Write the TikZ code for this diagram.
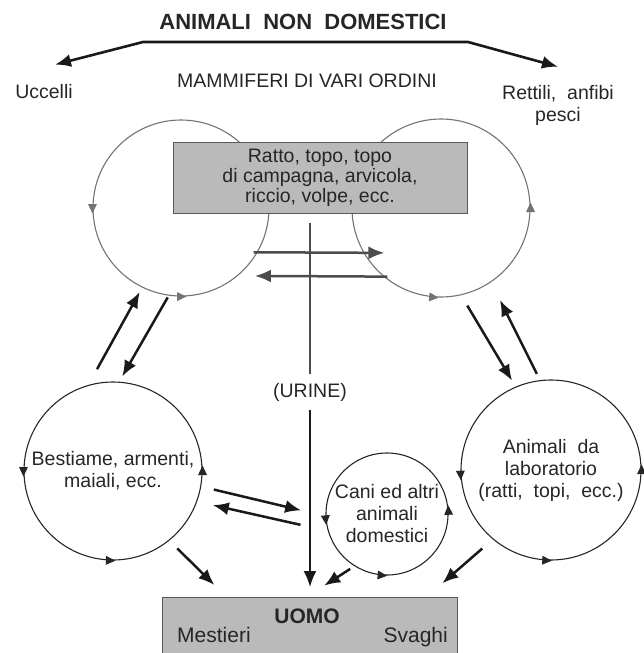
\documentclass[tikz,border=0pt]{standalone}
\usepackage{fontspec}
\setmainfont{Liberation Sans}
\usetikzlibrary{arrows.meta,calc}

\newcommand\ringmarks[3][black!85]{%
  \foreach \a in {#3} {\pic[rotate=\a+90,#1] at (#2.\a) {ringtip};}}

\begin{document}
\begin{tikzpicture}[x=1pt, y=-1pt,
  every node/.style={font=\fontsize{19.5}{22}\selectfont, text=black!85},
  >={Latex[length=16pt,width=13pt]},
  ring/.style={circle, draw=#1, line width=1.1pt, inner sep=0pt},
  ring/.default=black!85,
  panel/.style={rectangle, fill=black!27, draw=black!65, line width=1pt, inner sep=0pt},
  flow/.style={->, line width=2.5pt, draw=black!90},
  crossflow/.style={->, line width=2.5pt, draw=black!70},
  ringtip/.pic={\fill (5.5pt,0pt) -- (-4pt,4.5pt) -- (-4pt,-4.5pt) -- cycle;}]
	\useasboundingbox (0,0) rectangle (643,653);
	% header
	\node[font=\bfseries\fontsize{22}{24}\selectfont, inner sep=0pt] (title) at (303,22) {ANIMALI~~NON~~DOMESTICI};
	\node[inner sep=0pt] (mammiferi) at (307,81) {MAMMIFERI DI VARI ORDINI};
	\node[inner sep=0pt] (uccelli) at (44,92) {Uccelli};
	\node[inner sep=0pt, align=center] (rettili) at (558,105) {Rettili,~~anfibi\\pesci};
	\coordinate (bendL) at (143,42);
	\coordinate (bendR) at (468,42);
	\draw[flow, <->, line width=2.6pt] ([shift={(11,-20)}]uccelli.north) -- (bendL) -- (bendR) -- ([yshift=18pt]rettili.north);
	% wild mammals
	\node[ring=black!55, minimum size=176pt] (wildL) at (181,208) {};
	\node[ring=black!55, minimum size=178pt] (wildR) at (441,208) {};
	\ringmarks[black!55]{wildL}{180,270}
	\ringmarks[black!55]{wildR}{0,265}
	\node[panel, minimum width=294pt, minimum height=71pt, align=center, font=\fontsize{19.5}{20}\selectfont] (ratto) at (320,177.5) {Ratto, topo, topo\\di campagna, arvicola,\\riccio, volpe, ecc.};
	\draw[crossflow, shorten <=-4pt, shorten >=-21pt] (wildL.330) -- (wildR.210);
	\draw[crossflow, shorten <=-4pt, shorten >=17pt] (wildR.230) -- (wildL.310);
	% man
	\node[panel, draw=none, minimum width=294pt, minimum height=56pt, anchor=north] (uomo) at (310,597) {};
	\draw[black!65, line width=1pt] (uomo.south west) |- (uomo.north east) -- (uomo.south east);
	\node[font=\bfseries\fontsize{21}{22}\selectfont, inner sep=0pt, anchor=base] (man) at (307,623) {UOMO};
	\node[font=\fontsize{21}{22}\selectfont, inner sep=0pt, anchor=base west] (mestieri) at (177,642) {Mestieri};
	\node[font=\fontsize{21}{22}\selectfont, inner sep=0pt, anchor=base east] (svaghi) at (448,642) {Svaghi};
	% urine
	\node[inner sep=0pt, minimum height=36pt] (urine) at (310,392) {(URINE)};
	\draw[line width=1.8pt, draw=black!70, shorten <=9pt] (ratto.south -| urine) -- (urine);
	\draw[flow, line width=1.8pt, shorten >=10pt] (urine) -- (urine |- uomo.north);
	% domestic groups
	\node[ring, minimum size=178pt, align=center] (bestiame) at (113,471) {Bestiame, armenti,\\maiali, ecc.};
	\node[ring, minimum size=180pt, align=center] (lab) at (551,470) {Animali~~da\\laboratorio\\(ratti,~~topi,~~ecc.)};
	\node[ring, minimum size=122pt, align=center] (cani) at (387,514) {Cani ed altri\\animali\\domestici};
	\ringmarks{bestiame}{180,0,268}
	\ringmarks{lab}{183,0,267}
	\ringmarks{cani}{185,3,265}
	% exchanges
	\draw[flow, shorten <=18pt, shorten >=5pt] (bestiame.106) -- (wildL.244);
	\draw[flow, shorten <=2pt, shorten >=6pt] (wildL.262) -- (bestiame.86);
	\draw[flow, shorten <=12pt, shorten >=7pt] (wildR.283) -- (lab.113);
	\draw[flow, shorten <=7pt, shorten >=20pt] (lab.97) -- (wildR.304);
	\draw[flow, shorten <=13pt, shorten >=25pt] (bestiame.350) -- (cani.182);
	\draw[flow, shorten <=28pt, shorten >=16pt] (cani.196) -- (bestiame.340);
	% toward man
	\draw[flow, shorten <=11pt, shorten >=17pt] (bestiame.309) -- ([xshift=64pt]uomo.north west);
	\draw[flow, shorten <=5pt, shorten >=21pt] (cani.238) -- ([xshift=144pt]uomo.north west);
	\draw[flow, shorten <=14pt, shorten >=21pt] (lab.230) -- ([xshift=264pt]uomo.north west);
\end{tikzpicture}
\end{document}
